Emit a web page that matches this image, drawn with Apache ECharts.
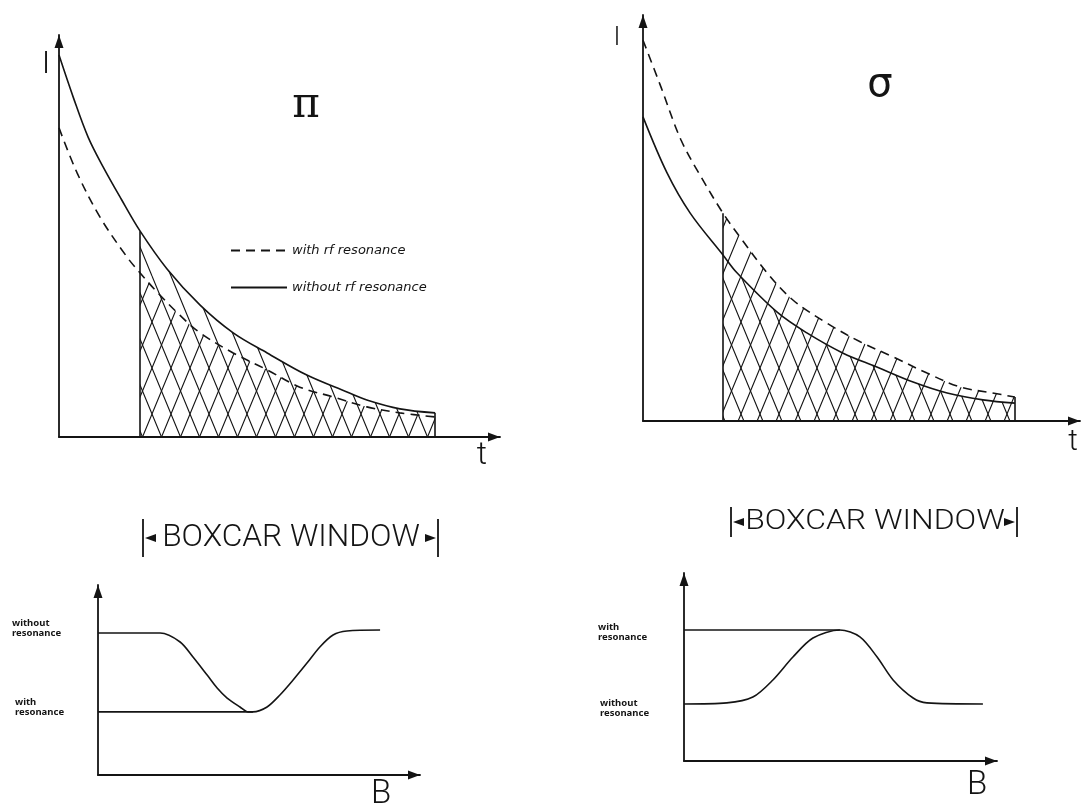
<!DOCTYPE html>
<html>
<head>
<meta charset="utf-8">
<script src="https://cdn.jsdelivr.net/npm/echarts@6/dist/echarts.min.js"></script>
<style>
  html, body { margin: 0; padding: 0; background: #ffffff; }
  #chart { width: 1082px; height: 811px; }
</style>
</head>
<body>
<div id="chart"></div>
<script>
// ---- π polarisation: fluorescence decay I(t) ----
const piWithoutT = [0, 0.33, 0.66, 1.0, 1.41, 1.84, 2.45, 3.2, 3.95, 4.72, 5.62, 6.53, 6.98, 7.73, 8.53];
const piWithoutI = [9.5, 8.43, 7.46, 6.72, 5.92, 5.12, 4.18, 3.28, 2.59, 2.09, 1.54, 1.12, 0.92, 0.70, 0.60];
const piWithT = [0, 0.41, 0.93, 1.54, 1.84, 2.22, 2.74, 3.2, 3.95, 4.72, 5.46, 6.21, 6.98, 7.73, 8.53];
const piWithI = [7.69, 6.57, 5.47, 4.48, 4.08, 3.61, 3.03, 2.59, 2.09, 1.67, 1.24, 1.0, 0.75, 0.60, 0.50];
const piWindow = [1.84, 8.53];

// ---- σ polarisation: fluorescence decay I(t) ----
const sigmaWithoutT = [0, 0.55, 1.08, 1.83, 2.15, 3.07, 3.75, 4.58, 5.35, 6.18, 6.96, 7.78, 8.51];
const sigmaWithoutI = [7.49, 6.11, 5.12, 4.09, 3.65, 2.68, 2.17, 1.67, 1.33, 0.96, 0.69, 0.52, 0.44];
const sigmaWithT = [0, 0.41, 0.87, 1.33, 1.83, 2.22, 2.84, 3.43, 4.21, 4.97, 5.72, 6.5, 7.25, 8.0, 8.51];
const sigmaWithI = [9.38, 8.23, 6.92, 6.01, 5.12, 4.53, 3.65, 2.98, 2.41, 1.95, 1.58, 1.18, 0.84, 0.69, 0.59];
const sigmaWindow = [1.83, 8.51];

// ---- boxcar signal versus field B ----
const piScanB = [0, 1.93, 2.55, 2.95, 3.39, 3.70, 4.01, 4.41, 4.66, 4.81, 5.25, 5.65, 6.06, 6.49, 6.89, 7.30, 7.73, 8.76];
const piScanI = [7.47, 7.47, 7.0, 6.21, 5.26, 4.58, 4.05, 3.58, 3.32, 3.32, 3.58, 4.21, 5.0, 5.89, 6.74, 7.37, 7.58, 7.63];
const piScanLevelB = [0, 4.81];
const piScanLevel = 3.32;

const sigmaScanB = [0, 1.37, 2.2, 2.84, 3.48, 4.12, 4.98, 5.62, 6.17, 6.68, 7.32, 7.76, 9.55];
const sigmaScanI = [3.03, 3.09, 3.40, 4.31, 5.53, 6.54, 6.97, 6.60, 5.53, 4.31, 3.35, 3.09, 3.03];
const sigmaScanLevelB = [0, 4.98];
const sigmaScanLevel = 6.97;

const legendNames = ['with rf resonance', 'without rf resonance'];

// ---- helpers ----
const INK = '#141414';
const zip = (xs, ys) => xs.map((x, i) => [x, ys[i]]);
const inWindow = (pts, w) => pts.filter(p => p[0] >= w[0] - 1e-9 && p[0] <= w[1] + 1e-9);
const valueAt = (pts, x) => pts.find(p => Math.abs(p[0] - x) < 1e-9)[1];

// diagonal hatch tile; '/' rises to the right, '\' falls to the right
function hatchTile(dir) {
  const w = 19, h = 46;
  const c = document.createElement('canvas');
  c.width = w; c.height = h;
  const ctx = c.getContext('2d');
  ctx.strokeStyle = INK;
  ctx.lineWidth = 1.1;
  ctx.beginPath();
  for (let k = -1; k <= 1; k++) {
    if (dir === '/') { ctx.moveTo(k * w, h); ctx.lineTo(k * w + w, 0); }
    else { ctx.moveTo(k * w, 0); ctx.lineTo(k * w + w, h); }
  }
  ctx.stroke();
  return { image: c, repeat: 'repeat' };
}

function axisPair(grid) {
  const line = (size) => ({
    show: true,
    symbol: ['none', 'triangle'],
    symbolSize: size,
    symbolOffset: [0, -size[1] / 2],
    lineStyle: { color: INK, width: 1.8 }
  });
  return {
    x: { type: 'value', gridIndex: grid, min: 0, max: 10, axisLine: line([9, 12]),
         axisTick: { show: false }, axisLabel: { show: false }, splitLine: { show: false } },
    y: { type: 'value', gridIndex: grid, min: 0, max: 10, axisLine: line([9, 13]),
         axisTick: { show: false }, axisLabel: { show: false }, splitLine: { show: false } }
  };
}
const axes = [0, 1, 2, 3].map(axisPair);

const SMOOTH = 0.35;
function curve(name, grid, pts, dashed, extra) {
  return Object.assign({
    name: name, type: 'line', xAxisIndex: grid, yAxisIndex: grid, data: pts,
    smooth: SMOOTH, symbol: 'none', silent: true, z: 5,
    lineStyle: { color: INK, width: 1.6, type: dashed ? [9, 6] : 'solid' },
    itemStyle: { color: INK }
  }, extra || {});
}
function hatchArea(grid, pts, dir) {
  return {
    type: 'line', xAxisIndex: grid, yAxisIndex: grid, data: pts,
    smooth: SMOOTH, symbol: 'none', silent: true, z: 2,
    lineStyle: { width: 0, opacity: 0 },
    areaStyle: { color: hatchTile(dir), opacity: 1 }
  };
}
function windowEdges(grid, w, topLeft, topRight) {
  return {
    type: 'line', xAxisIndex: grid, yAxisIndex: grid, data: [], silent: true, z: 4,
    markLine: {
      silent: true, symbol: ['none', 'none'], animation: false,
      label: { show: false },
      lineStyle: { color: INK, width: 1.6, type: 'solid' },
      data: [
        [{ coord: [w[0], 0] }, { coord: [w[0], topLeft] }],
        [{ coord: [w[1], 0] }, { coord: [w[1], topRight] }]
      ]
    }
  };
}

const piWithout = zip(piWithoutT, piWithoutI);
const piWith = zip(piWithT, piWithI);
const sigmaWithout = zip(sigmaWithoutT, sigmaWithoutI);
const sigmaWith = zip(sigmaWithT, sigmaWithI);

const series = [
  // π panel
  hatchArea(0, inWindow(piWithout, piWindow), '\\'),
  hatchArea(0, inWindow(piWith, piWindow), '/'),
  curve(legendNames[1], 0, piWithout, false),
  curve(legendNames[0], 0, piWith, true),
  windowEdges(0, piWindow,
    Math.max(valueAt(piWithout, piWindow[0]), valueAt(piWith, piWindow[0])),
    Math.max(valueAt(piWithout, piWindow[1]), valueAt(piWith, piWindow[1]))),
  // σ panel
  hatchArea(1, inWindow(sigmaWithout, sigmaWindow), '\\'),
  hatchArea(1, inWindow(sigmaWith, sigmaWindow), '/'),
  curve(legendNames[1], 1, sigmaWithout, false),
  curve(legendNames[0], 1, sigmaWith, true),
  windowEdges(1, sigmaWindow,
    Math.max(valueAt(sigmaWithout, sigmaWindow[0]), valueAt(sigmaWith, sigmaWindow[0])),
    Math.max(valueAt(sigmaWithout, sigmaWindow[1]), valueAt(sigmaWith, sigmaWindow[1]))),
  // field scans
  curve('π scan', 2, zip(piScanB, piScanI), false, { smooth: 0.3 }),
  curve('π level', 2, piScanLevelB.map(b => [b, piScanLevel]), false, { smooth: false }),
  curve('σ scan', 3, zip(sigmaScanB, sigmaScanI), false, { smooth: 0.3 }),
  curve('σ level', 3, sigmaScanLevelB.map(b => [b, sigmaScanLevel]), false, { smooth: false })
];

// text helpers for the hand-lettered annotations
const txt = (text, x, y, size, opts) => Object.assign({
  type: 'text', x: x, y: y, silent: true,
  style: Object.assign({
    text: text, fill: INK, fontSize: size, fontFamily: 'DejaVu Sans',
    textAlign: 'center', textVerticalAlign: 'middle', align: 'center', verticalAlign: 'middle'
  }, (opts && opts.style) || {})
}, (opts && opts.el) || {});

function boxcarLabel(cx, cy, x0, x1, barH, size, sx) {
  const ink = { stroke: INK, lineWidth: 1.8 };
  return [
    { type: 'line', silent: true, shape: { x1: x0, y1: cy - barH / 2, x2: x0, y2: cy + barH / 2 }, style: ink },
    { type: 'line', silent: true, shape: { x1: x1, y1: cy - barH / 2, x2: x1, y2: cy + barH / 2 }, style: ink },
    { type: 'polygon', silent: true, shape: { points: [[x0 + 2, cy], [x0 + 13, cy - 4], [x0 + 13, cy + 4]] }, style: { fill: INK } },
    { type: 'polygon', silent: true, shape: { points: [[x1 - 2, cy], [x1 - 13, cy - 4], [x1 - 13, cy + 4]] }, style: { fill: INK } },
    txt('BOXCAR WINDOW', cx, cy, size, { style: { fontFamily: 'Roboto', fontWeight: 300 }, el: { scaleX: sx } })
  ];
}

const small = { style: { fontFamily: 'Noto Sans', fontWeight: 'bold', fontSize: 9.5, lineHeight: 10, textAlign: 'left', align: 'left' } };

const graphic = [
  txt('I', 46, 65, 32, { style: { fontWeight: 300, fontFamily: 'Roboto' } }),
  txt('I', 617, 38, 26, { style: { fontWeight: 300, fontFamily: 'Roboto' } }),
  txt('t', 482, 456, 32, { style: { fontWeight: 300, fontFamily: 'Roboto' } }),
  txt('t', 1073, 442, 30, { style: { fontWeight: 300, fontFamily: 'Roboto' } }),
  txt('π', 306, 106, 42, { style: { fontFamily: 'DejaVu Serif' } }),
  txt('σ', 880, 86, 40, { style: { fontFamily: 'DejaVu Sans' } }),
  txt('B', 381, 795, 33, { style: { fontWeight: 300, fontFamily: 'Roboto' } }),
  txt('B', 977, 786, 33, { style: { fontWeight: 300, fontFamily: 'Roboto' } }),
  txt('without\nresonance', 12, 628, 9.5, small),
  txt('with\nresonance', 15, 707, 9.5, small),
  txt('with\nresonance', 598, 632, 9.5, small),
  txt('without\nresonance', 600, 708, 9.5, small)
].concat(boxcarLabel(291, 538, 143, 438, 38, 32, 0.99))
 .concat(boxcarLabel(875, 522, 731, 1017, 30, 28, 1.14));

const chart = echarts.init(document.getElementById('chart'), null, { renderer: 'canvas' });
chart.setOption({
  backgroundColor: '#ffffff',
  animation: false,
  grid: [
    { left: 59, top: 35, width: 441, height: 402, outerBoundsMode: 'none' },
    { left: 643, top: 15, width: 437, height: 406, outerBoundsMode: 'none' },
    { left: 98, top: 585, width: 322, height: 190, outerBoundsMode: 'none' },
    { left: 684, top: 573, width: 313, height: 188, outerBoundsMode: 'none' }
  ],
  xAxis: axes.map(a => a.x),
  yAxis: axes.map(a => a.y),
  legend: {
    data: legendNames,
    orient: 'vertical',
    left: 225, top: 239,
    itemWidth: 56, itemHeight: 14, itemGap: 24,
    selectedMode: false,
    itemStyle: { opacity: 0, color: 'transparent', borderWidth: 0 },
    textStyle: { color: INK, fontFamily: 'DejaVu Sans', fontStyle: 'italic', fontSize: 13 }
  },
  graphic: graphic,
  series: series
});
</script>
</body>
</html>
